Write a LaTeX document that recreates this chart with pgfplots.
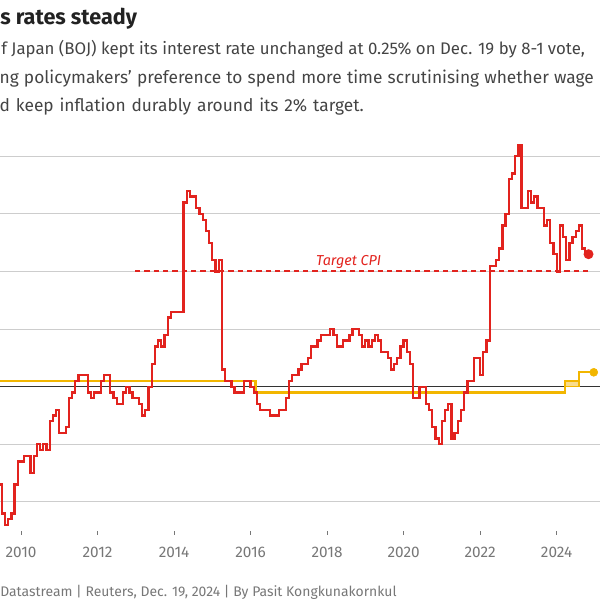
\documentclass[border=0pt]{standalone}
\usepackage{fontspec}
\setmainfont{Fira Sans}
\usepackage{pgfplots}
\pgfplotsset{compat=1.18}
\usepackage{pgfplotstable}

\definecolor{cpired}{HTML}{E2231E}
\definecolor{bojyel}{HTML}{F2B600}
\definecolor{bandyel}{HTML}{F9DC8C}
\definecolor{gridgray}{HTML}{CDCDCD}
\definecolor{titlecol}{HTML}{222222}
\definecolor{subcol}{HTML}{444444}
\definecolor{tickgray}{HTML}{777777}

% Japan core CPI (ex fresh food), y/y %, month-end dates
\pgfplotstableread{
y m v
2009 4 -0.1
2009 5 -1.1
2009 6 -1.7
2009 7 -2.2
2009 8 -2.4
2009 9 -2.3
2009 10 -2.2
2009 11 -1.7
2009 12 -1.3
2010 1 -1.3
2010 2 -1.2
2010 3 -1.2
2010 4 -1.5
2010 5 -1.2
2010 6 -1.0
2010 7 -1.1
2010 8 -1.0
2010 9 -1.1
2010 10 -0.6
2010 11 -0.5
2010 12 -0.4
2011 1 -0.8
2011 2 -0.8
2011 3 -0.7
2011 4 -0.2
2011 5 -0.1
2011 6 0.1
2011 7 0.2
2011 8 0.2
2011 9 0.2
2011 10 -0.1
2011 11 -0.2
2011 12 -0.1
2012 1 -0.1
2012 2 0.1
2012 3 0.2
2012 4 0.2
2012 5 -0.1
2012 6 -0.2
2012 7 -0.3
2012 8 -0.3
2012 9 -0.1
2012 10 0.0
2012 11 -0.1
2012 12 -0.2
2013 1 -0.2
2013 2 -0.3
2013 3 -0.5
2013 4 -0.4
2013 5 0.0
2013 6 0.4
2013 7 0.7
2013 8 0.8
2013 9 0.7
2013 10 0.9
2013 11 1.2
2013 12 1.3
2014 1 1.3
2014 2 1.3
2014 3 1.3
2014 4 3.2
2014 5 3.4
2014 6 3.3
2014 7 3.3
2014 8 3.1
2014 9 3.0
2014 10 2.9
2014 11 2.7
2014 12 2.5
2015 1 2.2
2015 2 2.0
2015 3 2.2
2015 4 0.3
2015 5 0.1
2015 6 0.1
2015 7 0.0
2015 8 -0.1
2015 9 -0.1
2015 10 -0.1
2015 11 0.1
2015 12 0.1
2016 1 0.0
2016 2 -0.1
2016 3 -0.3
2016 4 -0.4
2016 5 -0.4
2016 6 -0.4
2016 7 -0.5
2016 8 -0.5
2016 9 -0.5
2016 10 -0.4
2016 11 -0.4
2016 12 -0.2
2017 1 0.1
2017 2 0.2
2017 3 0.2
2017 4 0.3
2017 5 0.4
2017 6 0.4
2017 7 0.5
2017 8 0.7
2017 9 0.7
2017 10 0.8
2017 11 0.9
2017 12 0.9
2018 1 0.9
2018 2 1.0
2018 3 0.9
2018 4 0.7
2018 5 0.7
2018 6 0.8
2018 7 0.8
2018 8 0.9
2018 9 1.0
2018 10 1.0
2018 11 0.9
2018 12 0.7
2019 1 0.8
2019 2 0.7
2019 3 0.8
2019 4 0.9
2019 5 0.8
2019 6 0.6
2019 7 0.6
2019 8 0.5
2019 9 0.3
2019 10 0.4
2019 11 0.5
2019 12 0.7
2020 1 0.8
2020 2 0.6
2020 3 0.4
2020 4 -0.2
2020 5 -0.2
2020 6 0.0
2020 7 0.0
2020 8 -0.3
2020 9 -0.4
2020 10 -0.7
2020 11 -0.9
2020 12 -1.0
2021 1 -0.6
2021 2 -0.4
2021 3 -0.3
2021 4 -0.9
2021 5 -0.8
2021 6 -0.6
2021 7 -0.4
2021 8 -0.1
2021 9 0.1
2021 10 0.1
2021 11 0.5
2021 12 0.5
2022 1 0.2
2022 2 0.6
2022 3 0.8
2022 4 2.1
2022 5 2.1
2022 6 2.2
2022 7 2.4
2022 8 2.8
2022 9 3.0
2022 10 3.6
2022 11 3.7
2022 12 4.0
2023 1 4.2
2023 2 3.1
2023 3 3.1
2023 4 3.4
2023 5 3.2
2023 6 3.3
2023 7 3.1
2023 8 3.1
2023 9 2.8
2023 10 2.9
2023 11 2.5
2023 12 2.3
2024 1 2.0
2024 2 2.8
2024 3 2.6
2024 4 2.2
2024 5 2.5
2024 6 2.6
2024 7 2.7
2024 8 2.8
2024 9 2.4
2024 10 2.3
}\cpi

% BOJ policy rate, %
\pgfplotstableread{
t r
2009.0 0.1
2016.13 0.1
2016.13 -0.1
2024.21 -0.1
2024.21 0.1
2024.58 0.1
2024.58 0.25
2024.97 0.25
}\boj

\begin{document}
\begin{tikzpicture}
\useasboundingbox (0,0) rectangle (450pt,450pt);
\clip (0,0) rectangle (450pt,450pt);

\node[anchor=base west, inner sep=0pt, text=titlecol,
  font=\fontsize{16.2}{19}\selectfont\bfseries] at (0pt,431.25pt) {s rates steady};
\node[anchor=base west, inner sep=0pt, text=subcol,
  font=\fontsize{12.6}{14}\selectfont] at (0.8pt,408.75pt)
  {f Japan (BOJ) kept its interest rate unchanged at 0.25\% on Dec. 19 by 8-1 vote,};
\node[anchor=base west, inner sep=0pt, text=subcol,
  font=\fontsize{13}{14}\selectfont] at (-0.5pt,387.4pt)
  {\spaceskip=3.9pt\relax ng policymakers' preference to spend more time scrutinising whether wage};
\node[anchor=base west, inner sep=0pt, text=subcol,
  font=\fontsize{13}{14}\selectfont] at (-0.5pt,366pt)
  {\spaceskip=4.4pt\relax d keep inflation durably around its 2\% target.};
\node[anchor=base west, inner sep=0pt, text=tickgray,
  font=\fontsize{10.45}{12}\selectfont] at (0pt,2.6pt)
  {Datastream | Reuters, Dec. 19, 2024 | By Pasit Kongkunakornkul};

\begin{axis}[
  at={(0pt,51.98pt)}, anchor=south west,
  scale only axis, width=450pt, height=298.08pt,
  xmin=2009.4511, xmax=2025.1333,
  ymin=-2.5, ymax=4.4,
  axis line style={draw=none},
  axis on top=false,
  xtick={2010,2012,...,2024},
  xtick pos=bottom,
  tick align=outside,
  major tick length=3pt,
  x tick style={tickgray, line width=0.75pt},
  xticklabel style={/pgf/number format/1000 sep={}, font=\fontsize{11.5}{13}\selectfont,
    text=tickgray, anchor=base, yshift=-17.25pt},
  /pgf/number format/assume math mode=true,
  ytick={-2,-1,1,2,3,4},
  yticklabels={},
  y tick style={draw=none},
  ymajorgrids,
  major grid style={gridgray, line width=0.75pt},
  extra y ticks={0},
  extra y tick labels={},
  extra y tick style={grid=major, major grid style={black!80, line width=0.75pt},
    major tick length=0pt},
]
\addplot[draw=bojyel, fill=bandyel, line width=1pt] coordinates
  {(2024.21,0) (2024.21,0.1) (2024.58,0.1) (2024.58,0)} -- cycle;
\addplot[draw=bojyel, line width=1.7pt] table[x=t, y=r] {\boj};
\addplot[only marks, mark=*, mark size=3pt, color=bojyel] coordinates {(2024.97,0.25)};

\addplot[color=cpired, solid, line width=1.5pt, dash pattern=on 4pt off 3pt] coordinates
  {(2012.98,2) (2024.83,2)};
\node[anchor=base, inner sep=0pt, text=cpired, font=\fontsize{10.8}{12}\selectfont\itshape]
  at (axis cs:2018.565,2.11) {Target CPI};

\addplot[draw=cpired, line width=1.7pt, const plot mark right]
  table[x expr=\thisrow{y}+\thisrow{m}/12, y=v] {\cpi};
\addplot[only marks, mark=*, mark size=3.5pt, color=cpired] coordinates {(2024.8333,2.3)};
\end{axis}
\end{tikzpicture}
\end{document}
